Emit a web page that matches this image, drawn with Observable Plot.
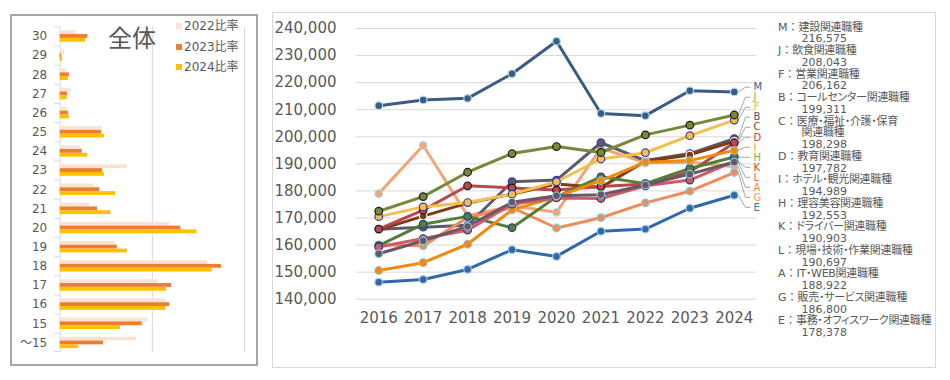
<!DOCTYPE html>
<html>
<head>
<meta charset="utf-8">
<script src="https://cdn.jsdelivr.net/npm/d3@7"></script>
<script src="https://cdn.jsdelivr.net/npm/@observablehq/plot@0.6"></script>
<style>
html, body { margin: 0; padding: 0; background: #fff; }
#root { position: relative; width: 950px; height: 380px; overflow: hidden;
  font-family: "DejaVu Sans", "Noto Sans CJK JP", sans-serif; color: #595959; }
.abs { position: absolute; }
.box { position: absolute; box-sizing: border-box; pointer-events: none; }
#leftBox { left: 10px; top: 14px; width: 248px; height: 352px; border: 2px solid #a6a6a6; }
#rightBox { left: 272px; top: 12px; width: 664px; height: 356px; border: 1px solid #d9d9d9; }
#title { left: 108px; top: 25px; font-family: "Noto Sans CJK JP", sans-serif; font-size: 24px; line-height: 24px; color: #595959; }
.lg { position: absolute; left: 176px; font-size: 12px; line-height: 14px; white-space: nowrap; }
.lg span.sw { position: absolute; left: 0; top: 4px; width: 6px; height: 6px; }
.lg span.tx { position: absolute; left: 8px; top: 0; }
#rlegend { left: 778px; top: 21.5px; font-size: 11px; line-height: 11.75px; white-space: nowrap; }
#rlegend .val { padding-left: 23.5px; }
#rlegend .nm { font-feature-settings: "palt"; letter-spacing: -0.3px; }
</style>
</head>
<body>
<div id="root">
  <div id="left" class="abs" style="left:12px;top:16px;"></div>
  <div id="right" class="abs" style="left:272px;top:12px;"></div>
  <div id="leftBox" class="box"></div>
  <div id="rightBox" class="box"></div>
  <div id="title" class="abs">全体</div>
  <div id="llegend"></div>
  <div id="rlegend" class="abs"></div>
</div>
<script>
// ---------- Left panel data (ratio, %) ----------
const ageCats = ["30","29","28","27","26","25","24","23","22","21","20","19","18","17","16","15","～15"];
const ratio2022 = [1.7, 0.5, 0.75, 1.2, 0.8, 4.55, 2.2, 7.3, 3.7, 3.2, 11.9, 6.0, 16.0, 10.7, 11.45, 9.5, 8.3];
const ratio2023 = [3.0, 0.15, 1.0, 0.8, 0.9, 4.5, 2.4, 4.6, 4.3, 4.05, 13.1, 6.2, 17.5, 12.1, 11.9, 8.9, 4.7];
const ratio2024 = [2.75, 0.25, 0.9, 0.75, 1.0, 4.8, 3.0, 4.8, 6.0, 5.5, 14.85, 7.3, 16.5, 11.55, 11.45, 6.55, 2.0];
const barSeries = ["2022比率", "2023比率", "2024比率"];
const barColors = ["#fbe3d4", "#ed7d31", "#ffc000"];

// ---------- Right panel data (yen) ----------
const years = [2016, 2017, 2018, 2019, 2020, 2021, 2022, 2023, 2024];
const salaryM = [211500, 213600, 214200, 223300, 235300, 208600, 207800, 217000, 216575];
const salaryJ = [172500, 177900, 186900, 193800, 196400, 194200, 200700, 204300, 208043];
const salaryF = [170500, 174100, 175700, 178800, 183400, 191800, 194100, 200400, 206162];
const salaryB = [165800, 166600, 167300, 183400, 184000, 197800, 191200, 193800, 199311];
const salaryC = [165600, 170700, 175500, 178800, 182600, 181300, 191000, 193300, 198298];
const salaryD = [165900, 172900, 181900, 181100, 180300, 181600, 182600, 187000, 197782];
const salaryI = [150600, 153500, 160300, 173000, 177800, 183800, 190600, 191200, 194989];
const salaryH = [159800, 167700, 170600, 166400, 177800, 185200, 182700, 188300, 192553];
const salaryK = [159300, 162400, 165500, 175100, 177400, 177200, 181900, 184000, 190903];
const salaryL = [156800, 161600, 166900, 175800, 178200, 178600, 182200, 186200, 190697];
const salaryA = [179000, 196800, 170800, 174500, 172100, 195800, 190400, 190600, 188922];
const salaryG = [160100, 159700, 170200, 173800, 166300, 170100, 175600, 179900, 186800];
const salaryE = [146300, 147300, 151000, 158300, 155800, 165100, 165900, 173600, 178378];

const seriesKeys = ["M","J","F","B","C","D","I","H","K","L","A","G","E"];
const seriesNames = ["建設関連職種", "飲食関連職種", "営業関連職種", "コールセンター関連職種",
  "医療・福祉・介護・保育\n関連職種", "教育関連職種", "ホテル・観光関連職種", "理容美容関連職種",
  "ドライバー関連職種", "現場・技術・作業関連職種", "IT・WEB関連職種", "販売・サービス関連職種",
  "事務・オフィスワーク関連職種"];
const seriesValues = [salaryM, salaryJ, salaryF, salaryB, salaryC, salaryD, salaryI, salaryH, salaryK, salaryL, salaryA, salaryG, salaryE];
const lineColors   = ["#3c5a86","#77883b","#f5c04a","#5c5a6c","#7e3b12","#b8474e","#f08a0c","#517f35","#cf5b66","#6b5566","#f0a576","#f08c5c","#2f69aa"];
const markerStroke = ["#a9dde6","#1a1a1a","#3b3ba5","#3b3ba5","#ffffff","#1a1a1a","#b0b0b0","#2b3c8c","#2b3c8c","#7fcfd6","#a9dde6","#7fcfd6","#9fc9e8"];
const labelColors  = ["#3c5a86","#bf9a2a","#f5c04a","#44546a","#9c3a12","#d0403a","#f0a030","#8aa83e","#e0402e","#e8683a","#f08a30","#f4a060","#2e75b6"];
const yTicks = d3.range(140000, 240001, 10000);

// ---------- Left chart ----------
const keyOrder = ageCats.flatMap(c => [c + "|a", c + "|0", c + "|1", c + "|2", c + "|b"]);
const bars = ageCats.flatMap((c, i) => [ratio2022, ratio2023, ratio2024].map((arr, j) => ({
  cat: c, key: c + "|" + j, v: arr[i], fill: barColors[j]
})));
const LH = 347, LMT = 10.4, LMB = 11;
const bw = (LH - LMT - LMB) / keyOrder.length;
const leftChart = Plot.plot({
  width: 244, height: LH,
  marginLeft: 47.7, marginRight: 12, marginTop: LMT, marginBottom: LMB,
  style: {fontFamily: "'DejaVu Sans','Noto Sans CJK JP',sans-serif", fontSize: "12px", color: "#595959", background: "transparent"},
  x: {domain: [0, 20], axis: null},
  y: {domain: keyOrder, padding: 0, tickSize: 0, tickPadding: 13, label: null,
      tickFormat: d => d.endsWith("|1") ? d.split("|")[0] : ""},
  color: {type: "identity"},
  marks: [
    Plot.ruleX([0, 10, 20], {stroke: "#d9d9d9"}),
    Plot.barX(ageCats, {x1: -0.59, x2: 0, y: c => c + "|a", fill: "#d9d9d9", insetBottom: bw - 1}),
    Plot.barX([ageCats[ageCats.length - 1]], {x1: -0.59, x2: 0, y: c => c + "|b", fill: "#d9d9d9", insetTop: bw - 1}),
    Plot.barX(bars, {x: "v", y: "key", fill: "fill"})
  ]
});
document.getElementById("left").appendChild(leftChart);

// left legend
const llg = document.getElementById("llegend");
const legTops = [19, 39.5, 60];
barSeries.forEach((s, i) => {
  const d = document.createElement("div");
  d.className = "lg";
  d.style.top = legTops[i] + "px";
  d.innerHTML = `<span class="sw" style="background:${barColors[i]}"></span><span class="tx">${s}</span>`;
  llg.appendChild(d);
});

// ---------- Right chart ----------
function dodge(vals, gap) {
  const idx = d3.range(vals.length).sort((a, b) => vals[b] - vals[a]);
  const groups = [];
  for (const i of idx) {
    groups.push({items: [i], sum: vals[i]});
    while (groups.length > 1) {
      const g = groups[groups.length - 1], p = groups[groups.length - 2];
      const pBottom = p.sum / p.items.length - (p.items.length - 1) / 2 * gap;
      const gTop = g.sum / g.items.length + (g.items.length - 1) / 2 * gap;
      if (pBottom - gTop < gap) { p.items.push(...g.items); p.sum += g.sum; groups.pop(); }
      else break;
    }
  }
  const out = new Array(vals.length);
  for (const g of groups) {
    const c = g.sum / g.items.length, n = g.items.length;
    g.items.forEach((i, k) => out[i] = c + ((n - 1) / 2 - k) * gap);
  }
  return out;
}
const lastYear = years[years.length - 1];
const lastVals = seriesValues.map(a => a[a.length - 1]);
const labelPos = dodge(lastVals, 3700);
const leadX = [0.09, 0.25, 0.35];
const leaders = seriesKeys.flatMap((k, i) => leadX.map((dx, j) => ({
  key: k, x: lastYear + dx, y: j === 0 ? lastVals[i] : labelPos[i]
})));
const endLabels = seriesKeys.map((k, i) => ({k, y: labelPos[i], c: labelColors[i]}));

const drawOrder = [...seriesKeys].sort();
const seriesMarks = drawOrder.flatMap(k => {
  const i = seriesKeys.indexOf(k);
  const pts = years.map((yr, j) => ({year: yr, value: seriesValues[i][j]}));
  return [
    Plot.line(pts, {x: "year", y: "value", stroke: lineColors[i], strokeWidth: 3}),
    Plot.dot(pts, {x: "year", y: "value", r: 3.8, fill: lineColors[i], stroke: markerStroke[i], strokeWidth: 1.2})
  ];
});

const rightChart = Plot.plot({
  width: 663, height: 355,
  marginLeft: 84, marginRight: 179, marginTop: 16, marginBottom: 68.3,
  style: {fontFamily: "'DejaVu Sans',sans-serif", fontSize: "15px", color: "#595959", background: "transparent"},
  x: {domain: [2015.5, 2024.5], ticks: years, tickFormat: d => String(d), tickSize: 0, tickPadding: 13, label: null},
  y: {domain: [140000, 240000], ticks: yTicks, tickFormat: d3.format(","), tickSize: 0, tickPadding: 20, label: null},
  color: {type: "identity"},
  marks: [
    Plot.ruleY(yTicks, {stroke: "#d9d9d9"}),
    Plot.line(leaders, {x: "x", y: "y", z: "key", stroke: "#a6a6a6", strokeWidth: 1}),
    ...seriesMarks,
    Plot.text(endLabels, {x: () => lastYear + 0.43, y: "y", text: "k", fill: "c", textAnchor: "start", fontSize: 10})
  ]
});
document.getElementById("right").appendChild(rightChart);

// right legend
const rl = document.getElementById("rlegend");
const fmt = d3.format(",");
seriesKeys.forEach((k, i) => {
  const parts = seriesNames[i].split("\n");
  const t = document.createElement("div");
  const pre = document.createElement("span");
  pre.textContent = k + "：";
  const nm = document.createElement("span");
  nm.className = "nm";
  nm.textContent = parts[0];
  t.appendChild(pre); t.appendChild(nm);
  rl.appendChild(t);
  parts.slice(1).forEach(p => {
    const e = document.createElement("div");
    e.className = "val nm";
    e.textContent = p;
    rl.appendChild(e);
  });
  const v = document.createElement("div");
  v.className = "val";
  v.textContent = fmt(lastVals[i]);
  rl.appendChild(v);
});
</script>
</body>
</html>
